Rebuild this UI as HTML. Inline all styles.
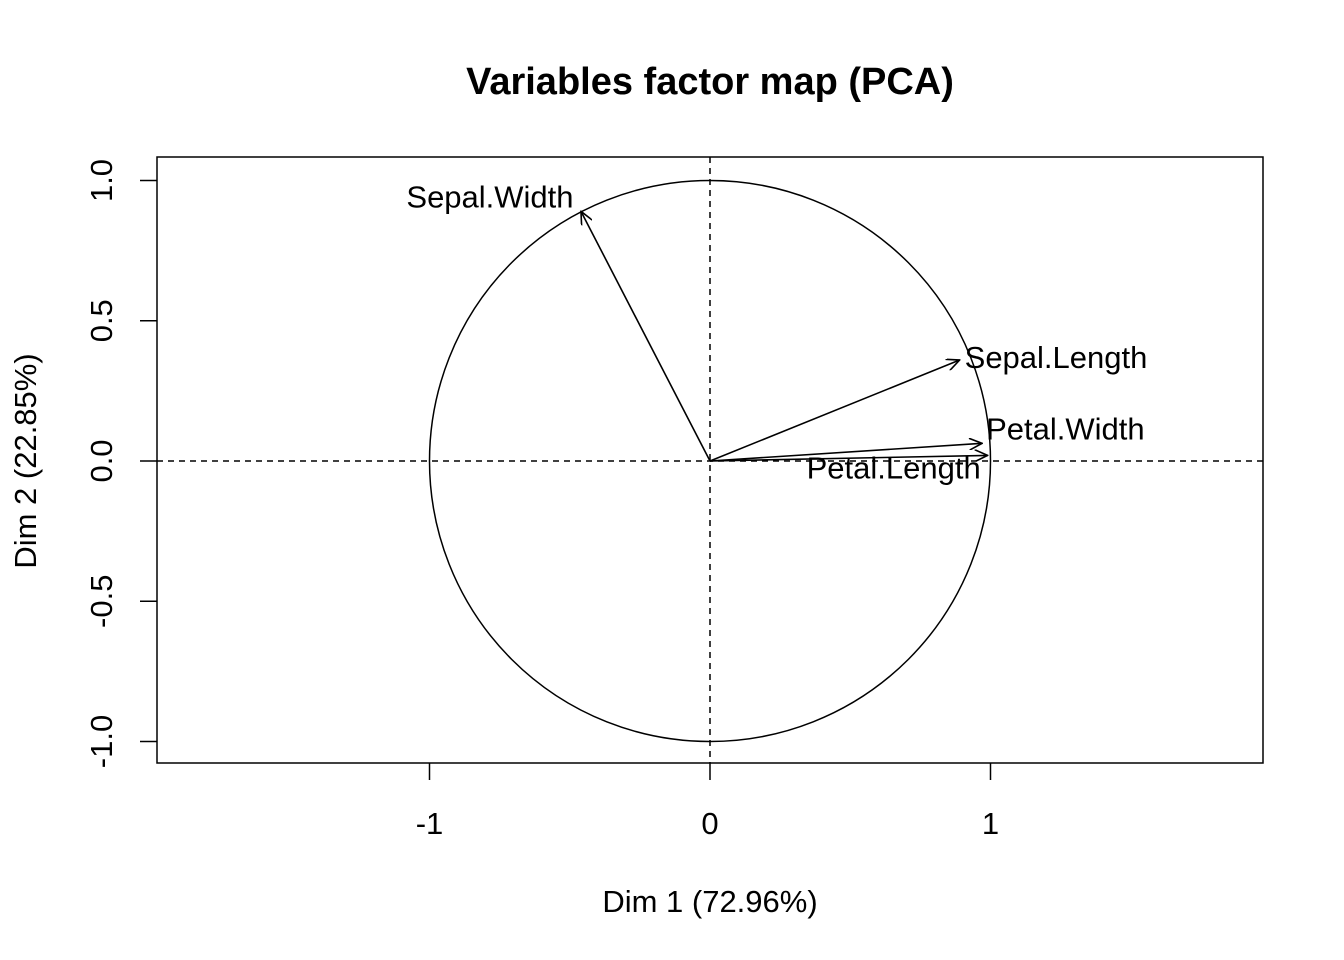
<!DOCTYPE html>
<html><head><meta charset="utf-8"><style>
html,body{margin:0;padding:0;background:#fff}
svg{display:block;font-family:"Liberation Sans",Arial,sans-serif}
</style></head><body>
<svg width="1344" height="960" viewBox="0 0 1344 960">
<defs><marker id="ah" markerWidth="14" markerHeight="12" refX="13" refY="6" orient="auto" markerUnits="userSpaceOnUse"><path d="M0,0 L13,6 L0,12" fill="none" stroke="#000" stroke-width="1.6"/></marker></defs>
<text x="710" y="94" text-anchor="middle" font-size="38" font-weight="bold">Variables factor map (PCA)</text>
<rect x="157" y="157" width="1106" height="606" fill="none" stroke="#000" stroke-width="1.5"/>
<g id="axes"></g>
<g id="marks"></g>
<text x="710" y="912" text-anchor="middle" font-size="31">Dim 1 (72.96%)</text>
<text transform="translate(36,461) rotate(-90)" text-anchor="middle" font-size="31">Dim 2 (22.85%)</text>
</svg>
<script>
const variables=["Sepal.Length","Sepal.Width","Petal.Length","Petal.Width"];
const dim1=[0.89,-0.46,0.99,0.97];
const dim2=[0.36,0.89,0.02,0.063];
const xTicks=[-1,0,1];
const yTicks=[-1.0,-0.5,0.0,0.5,1.0];
const NS="http://www.w3.org/2000/svg";
const X=v=>710+v*280.5, Y=v=>461-v*280.5;
function mk(tag,attrs,parent,txt){const e=document.createElementNS(NS,tag);for(const k in attrs)e.setAttribute(k,attrs[k]);if(txt!==undefined)e.textContent=txt;parent.appendChild(e);return e;}
const ax=document.getElementById('axes'), mg=document.getElementById('marks');
xTicks.forEach(t=>{
 const l=mk('line',{x1:X(t),x2:X(t),y1:763,y2:780,stroke:'#000','stroke-width':1.5},ax);
 
 
 const tx=mk('text',{x:X(t),y:834,'text-anchor':'middle','font-size':31},ax,String(t));
 
 
});
yTicks.forEach(t=>{
 const l=mk('line',{x1:140,x2:157,y1:Y(t),y2:Y(t),stroke:'#000','stroke-width':1.5},ax);
 
 
 const tx=mk('text',{transform:`translate(112,${Y(t)}) rotate(-90)`,'text-anchor':'middle','font-size':31},ax,t.toFixed(1));
 
 
});
const c=mk('circle',{cx:X(0),cy:Y(0),r:280.5,fill:'none',stroke:'#000','stroke-width':1.5},mg);


const h=mk('line',{x1:157,x2:1263,y1:Y(0),y2:Y(0),stroke:'#000','stroke-width':1.5,'stroke-dasharray':'6,5'},mg);


const v=mk('line',{x1:X(0),x2:X(0),y1:157,y2:763,stroke:'#000','stroke-width':1.5,'stroke-dasharray':'6,5'},mg);


const offs={"Sepal.Length":[5,-3,'start'],"Sepal.Width":[-91,-15,'middle'],"Petal.Length":[-7,12,'end'],"Petal.Width":[4,-15,'start']};
variables.forEach((n,i)=>{
 const a=mk('line',{x1:X(0),y1:Y(0),x2:X(dim1[i]),y2:Y(dim2[i]),stroke:'#000','stroke-width':1.6,'marker-end':'url(#ah)'},mg);
 
 
 const o=offs[n];
 const t=mk('text',{x:X(dim1[i])+o[0],y:Y(dim2[i])+o[1]+11,'text-anchor':o[2],'font-size':31},mg,n);
 
 
});
</script>
</body></html>
